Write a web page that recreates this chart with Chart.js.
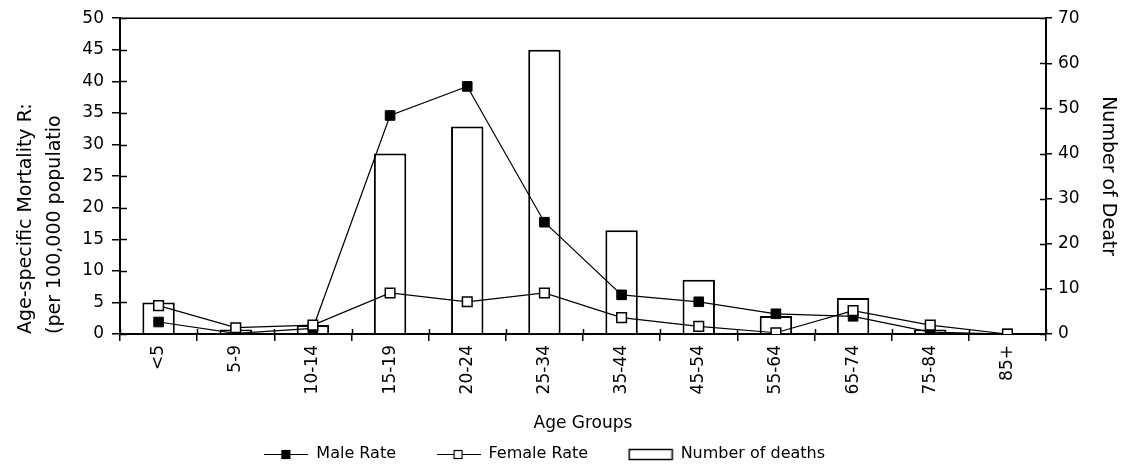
<!DOCTYPE html>
<html>
<head>
<meta charset="utf-8">
<script src="https://cdn.jsdelivr.net/npm/chart.js@4/dist/chart.umd.min.js"></script>
<style>
  html, body { margin: 0; padding: 0; background: #fff; }
  #wrap { width: 1125px; height: 472px; }
</style>
</head>
<body>
<div id="wrap"><canvas id="myChart" width="1125" height="472"></canvas></div>
<script>
// age groups on the x axis
const grupos = ['<5', '5-9', '10-14', '15-19', '20-24', '25-34', '35-44', '45-54', '55-64', '65-74', '75-84', '85+'];
// rates per 100,000 (left axis)
const tasaHombres = [1.9, 0.1, 0.9, 34.6, 39.2, 17.7, 6.2, 5.1, 3.2, 2.8, 0.3, 0];
const tasaMujeres = [4.5, 1.0, 1.4, 6.5, 5.1, 6.5, 2.6, 1.2, 0.2, 3.7, 1.4, 0];
// number of deaths (right axis)
const muertes = [7, 1, 2, 40, 46, 63, 23, 12, 4, 8, 1, 0];

const fuente = 'DejaVu Sans';

// small pictures for the legend keys
const iconoLinea = (relleno) => {
  const c = document.createElement('canvas');
  c.width = 44; c.height = 14;
  const ctx = c.getContext('2d');
  ctx.strokeStyle = '#000';
  ctx.lineWidth = 1.2;
  ctx.beginPath();
  ctx.moveTo(0, 7.5); ctx.lineTo(44, 7.5);
  ctx.stroke();
  ctx.fillStyle = relleno;
  ctx.fillRect(17.5, 3.5, 8, 8);
  ctx.strokeRect(17.5, 3.5, 8, 8);
  return c;
};
const iconoBarra = () => {
  const c = document.createElement('canvas');
  c.width = 46; c.height = 14;
  const ctx = c.getContext('2d');
  ctx.fillStyle = '#fff';
  ctx.fillRect(1, 2, 44, 11);
  ctx.strokeStyle = '#000';
  ctx.lineWidth = 1.5;
  ctx.strokeRect(1.5, 2.5, 43, 10);
  return c;
};
const iconos = [iconoLinea('#000'), iconoLinea('#fff'), iconoBarra()];
// extra room after each legend entry, like the original spacing
const colas = ['      ', '      ', '       '];

// inner tick marks and the top edge of the plot frame
const marco = {
  id: 'marco',
  afterDatasetsDraw(chart) {
    const ctx = chart.ctx;
    const a = chart.chartArea;
    ctx.save();
    ctx.strokeStyle = '#000';
    ctx.lineWidth = 1.5;
    ctx.beginPath();
    ctx.moveTo(a.left, a.top); ctx.lineTo(a.right, a.top);
    const y = chart.scales.y;
    y.ticks.forEach(t => {
      const p = Math.round(y.getPixelForValue(t.value)) + 0.5;
      ctx.moveTo(a.left, p); ctx.lineTo(a.left + 7, p);
    });
    const y2 = chart.scales.y2;
    y2.ticks.forEach(t => {
      const p = Math.round(y2.getPixelForValue(t.value)) + 0.5;
      ctx.moveTo(a.right - 6, p); ctx.lineTo(a.right, p);
    });
    const x = chart.scales.x;
    for (let i = 0; i <= grupos.length; i++) {
      const p = Math.round(x.getPixelForValue(i - 0.5)) + 0.5;
      ctx.moveTo(p, a.bottom); ctx.lineTo(p, a.bottom - 5);
    }
    ctx.stroke();
    ctx.restore();
  }
};

const data = {
  labels: grupos,
  datasets: [{
    type: 'line',
    label: 'Male Rate',
    data: tasaHombres,
    yAxisID: 'y',
    borderColor: '#000',
    borderWidth: 1.2,
    backgroundColor: '#000',
    pointStyle: 'rect',
    pointRadius: 6.8,
    pointBorderWidth: 1,
    pointBackgroundColor: '#000',
    pointBorderColor: '#000',
    tension: 0,
    order: 2
  }, {
    type: 'line',
    label: 'Female Rate',
    data: tasaMujeres,
    yAxisID: 'y',
    borderColor: '#000',
    borderWidth: 1.2,
    backgroundColor: '#fff',
    pointStyle: 'rect',
    pointRadius: 6.8,
    pointBorderWidth: 1.5,
    pointBackgroundColor: '#fff',
    pointBorderColor: '#000',
    tension: 0,
    order: 1
  }, {
    type: 'bar',
    label: 'Number of deaths',
    data: muertes,
    yAxisID: 'y2',
    backgroundColor: '#fff',
    borderColor: '#000',
    borderWidth: 2,
    categoryPercentage: 1,
    barPercentage: 0.42,
    order: 3
  }]
};

Chart.defaults.font.family = fuente;
Chart.defaults.color = '#000';

const myChart = new Chart('myChart', {
  data: data,
  plugins: [marco],
  options: {
    responsive: false,
    animation: false,
    layout: { padding: { top: 17, bottom: 0, left: 0, right: 0 } },
    plugins: {
      tooltip: { enabled: false },
      legend: {
        position: 'bottom',
        labels: {
          font: { size: 16 },
          padding: 10,
          usePointStyle: true,
          pointStyleWidth: 44,
          generateLabels: (chart) => chart.data.datasets.map((ds, i) => ({
            text: ds.label + colas[i],
            pointStyle: iconos[i],
            fillStyle: '#fff',
            strokeStyle: '#000',
            lineWidth: 0,
            hidden: false,
            datasetIndex: i,
            fontColor: '#000'
          }))
        }
      }
    },
    scales: {
      x: {
        type: 'category',
        offset: true,
        grid: { offset: true, drawOnChartArea: false, tickLength: 7, color: '#000', lineWidth: 1.5 },
        border: { color: '#000', width: 2 },
        ticks: { font: { size: 17 }, minRotation: 90, maxRotation: 90, padding: 4, autoSkip: false },
        title: { display: true, text: 'Age Groups', font: { size: 17 }, padding: { top: 4, bottom: 2 } },
        afterFit: (s) => { s.height = 102; }
      },
      y: {
        type: 'linear',
        position: 'left',
        min: 0,
        max: 50,
        ticks: { stepSize: 5, font: { size: 17 }, padding: 8 },
        grid: { drawOnChartArea: false, tickLength: 8, color: '#000', lineWidth: 1.5 },
        border: { color: '#000', width: 2 },
        title: {
          display: true,
          text: ['Age-specific Mortality R:', '(per 100,000 populatio'],
          font: { size: 19, lineHeight: 1.5 },
          align: 'start',
          padding: { top: 12, bottom: 0 }
        },
        afterFit: (s) => { s.width = 120; }
      },
      y2: {
        type: 'linear',
        position: 'right',
        min: 0,
        max: 70,
        ticks: { stepSize: 10, font: { size: 17 }, padding: 6 },
        grid: { drawOnChartArea: false, tickLength: 6, color: '#000', lineWidth: 1.5 },
        border: { color: '#000', width: 2 },
        title: { display: true, text: 'Number of Deatr', font: { size: 19 }, padding: { top: 6, bottom: 0 } },
        afterFit: (s) => { s.width = 79; }
      }
    }
  }
});
</script>
</body>
</html>
